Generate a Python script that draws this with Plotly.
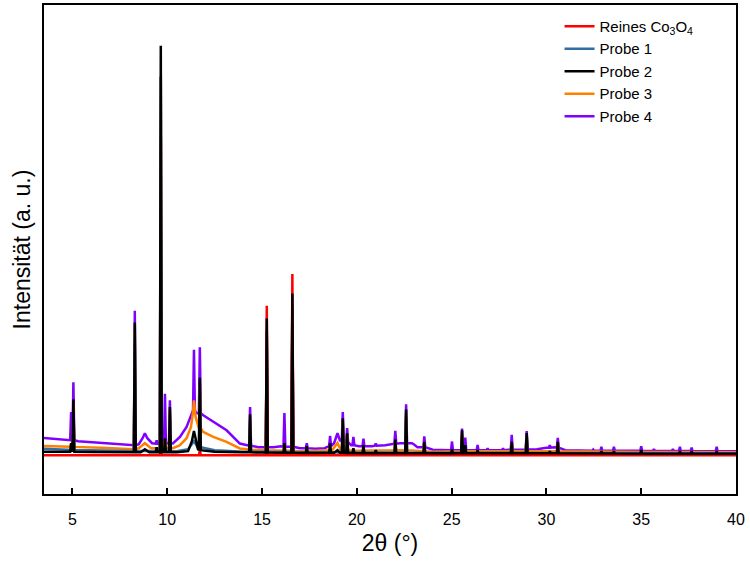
import plotly.graph_objects as go

# ---------------- data (a.u.) ----------------
# Reines Co3O4 (red)
red_bg_x = [3.5, 40.0]
red_bg_y = [0.0, 0.0]
red_pk_x = [9.66, 11.72, 15.25, 16.6, 19.26, 22.6, 25.55, 28.96]
red_pk_top = [6, 5, 150, 182, 4, 4, 3, 3]
red_pk_foot = [0, 0, 0, 0, 0, 0, 0, 0]

# Probe 1 (blue)
blue_bg_x = [3.5, 5.0, 8.0, 10.5, 11.1, 11.41, 11.6, 12.5, 14.0, 20.0, 30.0, 40.0]
blue_bg_y = [6.5, 5.2, 4.2, 4.0, 6.0, 14.0, 8.0, 5.0, 3.5, 2.8, 2.2, 2.0]
blue_pk_x = [5.05, 8.29, 9.66, 10.14, 11.72, 14.37, 15.25, 16.6, 19.26, 22.6, 25.55, 28.96]
blue_pk_top = [45, 115, 380, 40, 65, 35, 125, 150, 30, 38, 20, 18]
blue_pk_foot = [5.2, 4.2, 4.1, 4.0, 8.0, 3.4, 3.3, 3.2, 2.8, 2.6, 2.4, 2.3]

# Probe 2 (black)
black_bg_x = [3.5, 6.0, 8.0, 8.6, 8.82, 9.05, 10.5, 11.1, 11.3, 11.41, 11.52, 11.62,
              12.5, 14.0, 17.0, 18.8, 18.98, 19.1, 20.0, 25.0, 30.0, 35.0, 40.0]
black_bg_y = [3.5, 3.2, 3.0, 3.0, 6.0, 3.0, 3.0, 4.0, 14.0, 24.3, 14.0, 6.0,
              3.5, 2.8, 2.2, 2.5, 5.0, 2.5, 2.0, 1.8, 1.8, 1.5, 1.5]
black_pk_x = [4.93, 5.05, 8.29, 9.44, 9.66, 9.88, 10.14, 11.72, 14.37, 15.25, 16.18, 16.6,
              17.36, 18.59, 19.26, 19.49, 19.82, 20.35, 21.0, 22.03, 22.6, 23.56, 25.02,
              25.55, 25.72, 26.37, 28.17, 28.96, 30.18, 30.6, 32.9, 33.56, 35.0, 37.04,
              37.66, 38.98]
black_pk_top = [12, 56, 133.3, 8, 411, 17, 48.3, 77.7, 41, 137.3, 12, 162.3,
                9, 12, 37, 22, 7, 10, 5, 15.7, 45.7, 13.3, 6,
                25, 10, 5, 13.3, 22.3, 4, 13.3, 4, 4, 5, 4,
                4, 4]
black_pk_foot = [3.4, 3.4, 3.0, 3.0, 3.0, 3.0, 3.0, 5.0, 2.8, 2.6, 2.5, 2.4,
                 2.2, 2.4, 2.4, 2.3, 2.1, 2.0, 2.0, 2.0, 2.0, 2.0, 1.8,
                 1.8, 1.8, 1.8, 1.8, 1.8, 1.8, 1.8, 1.7, 1.7, 1.5, 1.5,
                 1.5, 1.5]

# Probe 3 (orange)
orange_bg_x = [3.5, 5.0, 6.5, 8.1, 8.5, 8.82, 9.15, 9.5, 10.3, 10.67, 11.02, 11.25, 11.35,
               11.41, 11.5, 11.6, 11.9, 12.43, 13.13, 13.83, 14.19, 15.0, 17.0, 18.7,
               18.98, 19.15, 20.0, 22.0, 24.0, 30.0, 35.0, 40.0]
orange_bg_y = [9.3, 8.3, 7.5, 6.0, 7.0, 12.0, 7.0, 7.0, 7.0, 10.0, 17.0, 28.0, 42.0,
               55.0, 38.0, 30.0, 23.3, 18.3, 13.3, 6.7, 6.0, 5.0, 4.0, 5.0,
               12.3, 5.0, 4.5, 5.0, 3.5, 4.0, 3.2, 3.0]
orange_pk_x = [4.93, 5.05, 8.29, 9.66, 9.88, 10.14, 11.72, 14.37, 15.25, 16.18, 16.6,
               19.26, 19.49, 22.03, 22.6, 23.56, 25.55, 28.17, 28.96, 30.6]
orange_pk_top = [11, 50, 125, 380, 15, 44, 70, 36, 125, 10, 150,
                 33, 20, 14, 42, 12, 22, 12, 20, 12]
orange_pk_foot = [8.5, 8.3, 6.0, 7.0, 7.0, 7.0, 27.0, 5.5, 5.0, 4.5, 4.5,
                  6.0, 5.0, 5.0, 5.0, 4.0, 3.8, 3.8, 3.8, 4.0]

# Probe 4 (purple)
purple_bg_x = [3.5, 4.8, 5.3, 6.5, 8.1, 8.5, 8.7, 8.82, 8.95, 9.2, 9.55, 10.0, 10.3,
               10.67, 11.02, 11.25, 11.55, 11.9, 12.43, 13.13, 13.83, 14.19, 14.8,
               15.6, 16.0, 16.5, 17.0, 17.8, 18.3, 18.8, 18.98, 19.12, 19.7, 20.1,
               20.8, 21.5, 22.3, 22.9, 23.0, 23.2, 24.0, 25.0, 26.0, 27.0, 28.0,
               29.5, 30.0, 30.4, 31.0, 32.0, 34.0, 36.0, 38.0, 40.0]
purple_bg_y = [17.3, 15.0, 14.0, 12.5, 10.0, 11.0, 17.0, 22.0, 17.0, 12.0, 11.5, 12.0, 11.7,
               18.3, 28.3, 40.0, 42.0, 40.0, 33.3, 25.0, 11.7, 10.0, 8.0,
               8.0, 9.0, 8.0, 7.0, 6.5, 7.0, 12.0, 22.0, 14.0, 10.0, 9.0,
               9.0, 10.0, 12.0, 12.0, 11.0, 8.0, 5.5, 5.0, 5.0, 5.0, 5.5,
               6.0, 7.5, 8.0, 5.0, 4.5, 4.5, 4.3, 4.0, 4.0]
purple_pk_x = [4.93, 5.05, 8.29, 9.44, 9.66, 9.88, 10.14, 11.41, 11.72, 14.37, 15.25, 16.18,
               16.6, 17.36, 18.59, 19.26, 19.49, 19.82, 20.35, 21.0, 22.03, 22.6, 23.56,
               25.02, 25.55, 25.72, 26.37, 26.9, 27.71, 28.17, 28.96, 30.18, 30.6, 32.47,
               32.9, 33.56, 35.0, 35.67, 36.67, 37.04, 37.66, 38.98]
purple_pk_top = [43.3, 73.3, 145, 15, 320, 61.7, 55, 105.7, 108.3, 48.3, 110, 42.3,
                 130, 12, 19.3, 43.3, 27.3, 18.3, 16.7, 11.7, 24.3, 51, 19,
                 13.7, 26.7, 17.7, 10.3, 7, 7, 20.3, 24.3, 10, 17.3, 5.7,
                 8.3, 8.3, 9, 6, 6, 8.3, 7.7, 8.3]
purple_pk_foot = [15, 15, 10, 11.5, 12, 12, 12, 45, 42, 9.5, 8, 8.5,
                  8.5, 7, 9, 16, 13, 10, 9, 9.5, 11.5, 12, 8,
                  5, 5, 5, 5, 5, 5, 5.5, 5.8, 7.5, 7.5, 4.5,
                  4.5, 4.5, 4.4, 4.3, 4.2, 4.2, 4.1, 4.0]

x_ticks = [5, 10, 15, 20, 25, 30, 35, 40]

HW = 0.05  # half width of a sharp reflection (deg)


def pattern(bg_x, bg_y, pk_x, pk_top, pk_foot):
    pts = [(x, y) for x, y in zip(bg_x, bg_y)
           if all(abs(x - p) > 1.5 * HW for p in pk_x)]
    for p, t, f in zip(pk_x, pk_top, pk_foot):
        pts += [(p - HW, f), (p, t), (p + HW, f)]
    pts.sort(key=lambda q: q[0])
    return [q[0] for q in pts], [q[1] for q in pts]


series = [
    # name, colour, data, legend rank
    ("Probe 4", "#8000FF", (purple_bg_x, purple_bg_y, purple_pk_x, purple_pk_top, purple_pk_foot), 5),
    ("Probe 3", "#FF8000", (orange_bg_x, orange_bg_y, orange_pk_x, orange_pk_top, orange_pk_foot), 4),
    ("Probe 1", "#336BA3", (blue_bg_x, blue_bg_y, blue_pk_x, blue_pk_top, blue_pk_foot), 2),
    ("Reines Co<sub>3</sub>O<sub>4</sub>", "#FF0000", (red_bg_x, red_bg_y, red_pk_x, red_pk_top, red_pk_foot), 1),
    ("Probe 2", "#000000", (black_bg_x, black_bg_y, black_pk_x, black_pk_top, black_pk_foot), 3),
]

fig = go.Figure()
for name, colour, d, rank in series:
    xs, ys = pattern(*d)
    fig.add_trace(go.Scatter(x=xs, y=ys, mode="lines", name=name,
                             line=dict(color=colour, width=2.5),
                             legendrank=rank))

fig.update_layout(
    width=750, height=563,
    margin=dict(l=44, r=14, t=3, b=69),
    paper_bgcolor="white", plot_bgcolor="white",
    font=dict(family="Arial, Liberation Sans, sans-serif", color="black"),
    legend=dict(x=0.745, y=0.99, xanchor="left", yanchor="top",
                bgcolor="rgba(0,0,0,0)", font=dict(size=15),
                tracegroupgap=0, itemwidth=30),
    showlegend=True,
)
fig.update_xaxes(range=[3.5, 40], tickvals=x_ticks, ticks="inside", ticklen=6,
                 tickwidth=2, tickcolor="black", showline=True, linecolor="black",
                 linewidth=2, mirror=True, showgrid=False, zeroline=False,
                 tickfont=dict(size=16), ticklabelstandoff=10,
                 title=dict(text="2θ (°)", font=dict(size=23), standoff=8))
fig.update_yaxes(range=[-39, 452], showticklabels=False, ticks="",
                 showline=True, linecolor="black", linewidth=2, mirror=True,
                 showgrid=False, zeroline=False,
                 title=dict(text="Intensität (a. u.)", font=dict(size=23), standoff=5))

fig.write_html("out.html", config={"displayModeBar": False},
               post_script="document.body.style.margin='0';document.body.style.padding='0';")
